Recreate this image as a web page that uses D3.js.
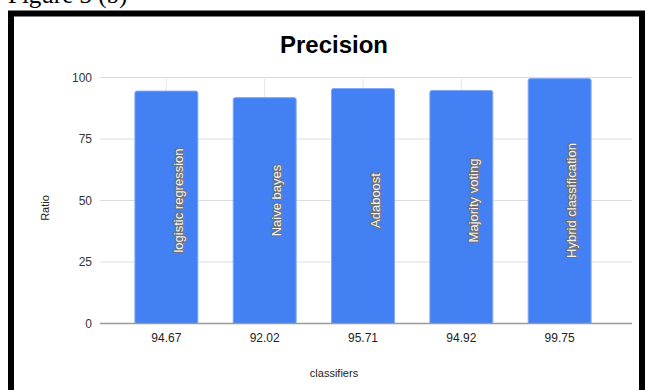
<!DOCTYPE html>
<html>
<head>
<meta charset="utf-8">
<script src="https://cdn.jsdelivr.net/npm/d3@7"></script>
<style>
  html, body { margin: 0; padding: 0; background: #fff; }
  svg { display: block; }
</style>
</head>
<body>
<svg id="chart" width="649" height="390"></svg>
<script>
// Precision of each classifier (%)
const classifiers = ["logistic regression", "Naive bayes", "Adaboost", "Majority voting", "Hybrid classification"];
const precision = [94.67, 92.02, 95.71, 94.92, 99.75];
const valueLabels = ["94.67", "92.02", "95.71", "94.92", "99.75"];
const yTicks = [0, 25, 50, 75, 100];

const svg = d3.select("#chart");
const W = 649, H = 390;
const plot = { left: 100, right: 632, top: 77.5, bottom: 323.5 };

svg.append("rect").attr("width", W).attr("height", H).attr("fill", "#fff");

// caption above the framed chart
svg.append("text")
  .attr("x", 8).attr("y", 3)
  .attr("font-family", "'Liberation Serif', 'Times New Roman', serif")
  .attr("font-size", 25)
  .attr("fill", "#000")
  .text("Figure 3 (b)");

// frame
svg.append("rect")
  .attr("x", 11).attr("y", 13.5)
  .attr("width", 631).attr("height", 420)
  .attr("fill", "#fff")
  .attr("stroke", "#000").attr("stroke-width", 6);

const x = d3.scaleBand()
  .domain(classifiers)
  .range([plot.left, 626])
  .paddingInner(0.35)
  .paddingOuter(0.35);

const y = d3.scaleLinear()
  .domain([0, 100])
  .range([plot.bottom, plot.top]);

// horizontal gridlines
svg.append("g").selectAll("line")
  .data(yTicks.filter(d => d > 0))
  .join("line")
  .attr("x1", plot.left).attr("x2", plot.right)
  .attr("y1", d => y(d)).attr("y2", d => y(d))
  .attr("stroke", "#dcdcdc").attr("stroke-width", 1);

// vertical gridlines at category centres
svg.append("g").selectAll("line")
  .data(classifiers)
  .join("line")
  .attr("x1", d => x(d) + x.bandwidth() / 2)
  .attr("x2", d => x(d) + x.bandwidth() / 2)
  .attr("y1", plot.top).attr("y2", plot.bottom)
  .attr("stroke", "#e6e6e6").attr("stroke-width", 1);

// y tick labels
svg.append("g").selectAll("text")
  .data(yTicks)
  .join("text")
  .attr("x", 92).attr("y", d => y(d))
  .attr("dy", "0.35em")
  .attr("text-anchor", "end")
  .attr("font-family", "Arial, 'Liberation Sans', sans-serif")
  .attr("font-size", 12)
  .attr("fill", "#333")
  .text(d => d);

// bars
svg.append("g").selectAll("path")
  .data(classifiers)
  .join("path")
  .attr("d", (d, i) => {
    const x0 = x(d) + 0.5, x1 = x(d) + x.bandwidth() - 0.5;
    const y0 = y(precision[i]) + 0.5, yb = plot.bottom, r = 2;
    return `M${x0},${yb}V${y0 + r}Q${x0},${y0} ${x0 + r},${y0}H${x1 - r}Q${x1},${y0} ${x1},${y0 + r}V${yb}Z`;
  })
  .attr("fill", "#4280f4")
  .attr("stroke", "#7fa6f7")
  .attr("stroke-width", 1);

// baseline
svg.append("line")
  .attr("x1", plot.left).attr("x2", plot.right)
  .attr("y1", plot.bottom).attr("y2", plot.bottom)
  .attr("stroke", "#9a9a9a").attr("stroke-width", 1.5);

// classifier names written inside the bars
svg.append("g").selectAll("text")
  .data(classifiers)
  .join("text")
  .attr("transform", d => `translate(${x(d) + x.bandwidth() / 2 + 12},${y(50)}) rotate(-90)`)
  .attr("text-anchor", "middle")
  .attr("dy", "0.35em")
  .attr("font-family", "Arial, 'Liberation Sans', sans-serif")
  .attr("font-size", 13)
  .attr("fill", "#f2f2f2")
  .attr("stroke", "#707070")
  .attr("stroke-width", 2.2)
  .attr("stroke-linejoin", "round")
  .attr("paint-order", "stroke")
  .text(d => d);

// value labels under each bar
svg.append("g").selectAll("text")
  .data(classifiers)
  .join("text")
  .attr("x", d => x(d) + x.bandwidth() / 2)
  .attr("y", 338)
  .attr("dy", "0.35em")
  .attr("text-anchor", "middle")
  .attr("font-family", "Arial, 'Liberation Sans', sans-serif")
  .attr("font-size", 12)
  .attr("fill", "#222")
  .text((d, i) => valueLabels[i]);

// title
svg.append("text")
  .attr("x", 334).attr("y", 53)
  .attr("text-anchor", "middle")
  .attr("font-family", "Arial, 'Liberation Sans', sans-serif")
  .attr("font-weight", "bold")
  .attr("font-size", 24)
  .attr("fill", "#000")
  .text("Precision");

// axis titles
svg.append("text")
  .attr("x", 334).attr("y", 373)
  .attr("dy", "0.35em")
  .attr("text-anchor", "middle")
  .attr("font-family", "Arial, 'Liberation Sans', sans-serif")
  .attr("font-size", 11)
  .attr("fill", "#222")
  .text("classifiers");

svg.append("text")
  .attr("transform", `translate(45,208) rotate(-90)`)
  .attr("dy", "0.35em")
  .attr("text-anchor", "middle")
  .attr("font-family", "Arial, 'Liberation Sans', sans-serif")
  .attr("font-size", 11)
  .attr("fill", "#222")
  .text("Ratio");
</script>
</body>
</html>
